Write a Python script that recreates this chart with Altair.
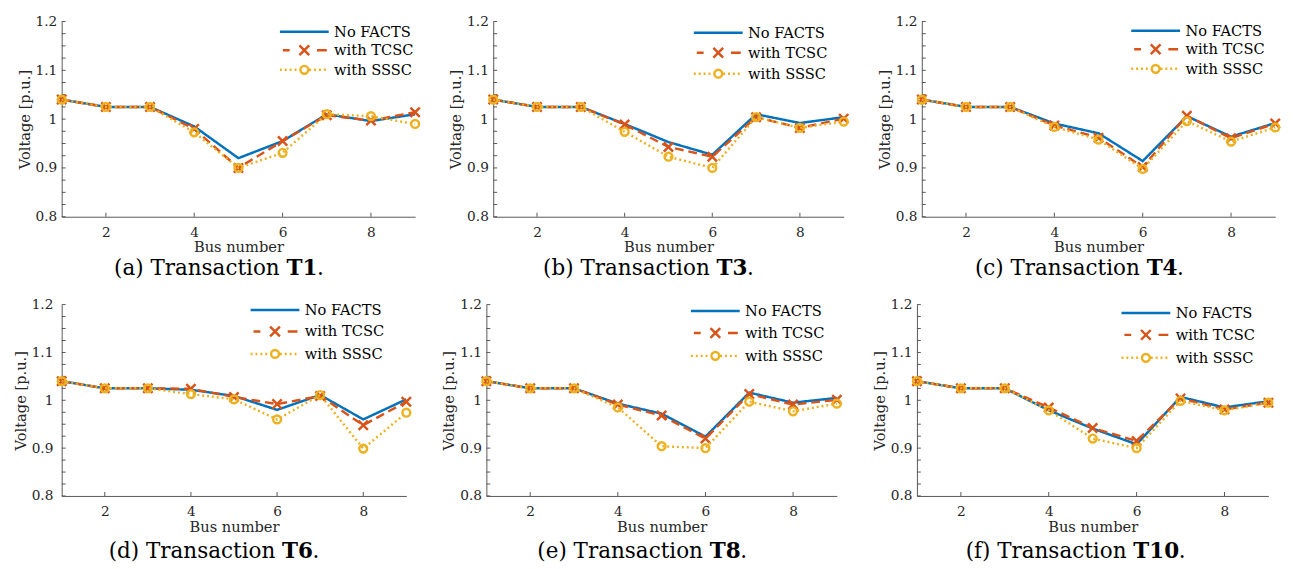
import altair as alt
import pandas as pd

# ---------------- data ----------------
BUS = [1, 2, 3, 4, 5, 6, 7, 8, 9]
SERIES = ["No FACTS", "with TCSC", "with SSSC"]
LETTERS = ["a", "b", "c", "d", "e", "f"]
TRANSACTIONS = ["T1", "T3", "T4", "T6", "T8", "T10"]

T1_NO = [1.040, 1.025, 1.025, 0.985, 0.920, 0.955, 1.010, 0.996, 1.010]
T1_TCSC = [1.040, 1.025, 1.025, 0.980, 0.900, 0.955, 1.008, 0.997, 1.014]
T1_SSSC = [1.040, 1.025, 1.025, 0.973, 0.900, 0.931, 1.010, 1.006, 0.990]

T3_NO = [1.040, 1.025, 1.025, 0.990, 0.953, 0.927, 1.010, 0.992, 1.004]
T3_TCSC = [1.040, 1.025, 1.025, 0.989, 0.943, 0.923, 1.004, 0.982, 1.001]
T3_SSSC = [1.040, 1.025, 1.025, 0.974, 0.923, 0.900, 1.004, 0.982, 0.995]

T4_NO = [1.040, 1.025, 1.025, 0.991, 0.971, 0.914, 1.006, 0.964, 0.992]
T4_TCSC = [1.040, 1.025, 1.025, 0.987, 0.962, 0.902, 1.007, 0.961, 0.991]
T4_SSSC = [1.040, 1.025, 1.025, 0.984, 0.958, 0.898, 0.996, 0.954, 0.983]

T6_NO = [1.040, 1.025, 1.025, 1.022, 1.009, 0.980, 1.011, 0.960, 1.002]
T6_TCSC = [1.040, 1.025, 1.025, 1.024, 1.007, 0.992, 1.009, 0.948, 0.997]
T6_SSSC = [1.040, 1.025, 1.025, 1.013, 1.002, 0.960, 1.011, 0.899, 0.974]

T8_NO = [1.040, 1.025, 1.025, 0.993, 0.972, 0.924, 1.016, 0.995, 1.005]
T8_TCSC = [1.040, 1.025, 1.025, 0.991, 0.968, 0.920, 1.013, 0.991, 1.001]
T8_SSSC = [1.040, 1.025, 1.025, 0.985, 0.904, 0.900, 0.997, 0.977, 0.993]

T10_NO = [1.040, 1.025, 1.025, 0.979, 0.941, 0.908, 1.007, 0.985, 0.998]
T10_TCSC = [1.040, 1.025, 1.025, 0.985, 0.942, 0.915, 1.004, 0.981, 0.995]
T10_SSSC = [1.040, 1.025, 1.025, 0.979, 0.920, 0.900, 0.999, 0.979, 0.995]

Y_TICK_LABELS = [0.8, 0.9, 1.0, 1.1, 1.2]
Y_TICK_MARKS = [0.8, 0.825, 0.85, 0.875, 0.9, 0.925, 0.95, 0.975, 1.0,
                1.025, 1.05, 1.075, 1.1, 1.125, 1.15, 1.175, 1.2]
X_TICK_LABELS = [2, 4, 6, 8]

PANEL_DATA = [
    (T1_NO, T1_TCSC, T1_SSSC),
    (T3_NO, T3_TCSC, T3_SSSC),
    (T4_NO, T4_TCSC, T4_SSSC),
    (T6_NO, T6_TCSC, T6_SSSC),
    (T8_NO, T8_TCSC, T8_SSSC),
    (T10_NO, T10_TCSC, T10_SSSC),
]

# ---------------- style ----------------
COLORS = ["#0072BD", "#D95319", "#EDB120"]
DASHES = [[1, 0], [9, 5], [2, 3]]
FONT = "DejaVu Serif"
AXIS_COLOR = "#262626"
DOMAIN_COLOR = "#555555"

WIDTHS = [362, 359, 362, 353, 359, 360]
HEIGHTS = [200, 200, 200, 196, 196, 196]
LEG_X = [261, 243, 252, 231, 247, 247]
LEG_Y = [3, 4, 2, -2, -1, 1]
LEG_ROWPAD = [0, 1.5, 0, 3, 3.5, 3.5]
Y_LABEL_PAD = [5, 5, 5, 9, 5, 5]
CAPTION_GAP = [53, 53, 53, 57, 57, 57]

X_MARKER = "M-1,-1L1,1M-1,1L1,-1"


def dotted(a, b, on=0.4, off=0.6):
    parts = []
    p = a
    while p < b - 1e-9:
        q = min(p + on, b)
        parts.append(f"M{p:.2f},0L{q:.2f},0")
        p = q + off
    return "".join(parts)


CIRCLE = "M-4.8,0A0.8,0.8 0 1,0 -3.2,0A0.8,0.8 0 1,0 -4.8,0"
LEGEND_PATHS = [
    "M-9,0L1,0",
    "M-8.4,0L-7,0M-1.4,0L0.6,0M-5,-1L-3,1M-5,1L-3,-1",
    dotted(-9, -5.0) + dotted(-3.0, 1) + CIRCLE,
]


def make_panel(i):
    no, tcsc, sssc = PANEL_DATA[i]
    w, h = WIDTHS[i], HEIGHTS[i]
    df = pd.DataFrame({
        "bus": BUS * 3,
        "v": no + tcsc + sssc,
        "series": [SERIES[0]] * 9 + [SERIES[1]] * 9 + [SERIES[2]] * 9,
    })
    xs = alt.Scale(domain=[1, 9], nice=False, zero=False)
    ys = alt.Scale(domain=[0.8, 1.2], nice=False, zero=False)
    x_axis = alt.Axis(values=X_TICK_LABELS, title="Bus number", ticks=False,
                      grid=False, labelPadding=9, titlePadding=1)
    y_axis = alt.Axis(values=Y_TICK_LABELS, format="~g", title="Voltage [p.u.]",
                      ticks=False, grid=False, labelPadding=Y_LABEL_PAD[i], titlePadding=3)
    X = alt.X("bus:Q", scale=xs, axis=x_axis)
    Y = alt.Y("v:Q", scale=ys, axis=y_axis)

    base = alt.Chart(df)

    ytick = alt.Chart(pd.DataFrame({"v": Y_TICK_MARKS})).mark_tick(
        orient="horizontal", size=4, thickness=1, color=DOMAIN_COLOR, xOffset=2, opacity=1
    ).encode(x=alt.X(datum=1, type="quantitative", scale=xs, axis=x_axis), y=Y)
    xtick = alt.Chart(pd.DataFrame({"bus": X_TICK_LABELS})).mark_tick(
        orient="vertical", size=4, thickness=1, color=DOMAIN_COLOR, yOffset=-2, opacity=1
    ).encode(x=X, y=alt.Y(datum=0.8, type="quantitative", scale=ys, axis=y_axis))

    def line(k):
        return base.transform_filter(alt.datum.series == SERIES[k]).mark_line(
            strokeWidth=2.5, strokeCap="butt", color=COLORS[k], strokeDash=DASHES[k]
        ).encode(x=X, y=Y)

    def pts(k, shape, size):
        return base.transform_filter(alt.datum.series == SERIES[k]).mark_point(
            shape=shape, filled=False, size=size, strokeWidth=2.5, opacity=1, color=COLORS[k]
        ).encode(x=X, y=Y)

    leg = alt.Legend(title=None, orient="none", legendX=LEG_X[i], legendY=LEG_Y[i],
                     padding=0, symbolSize=100, symbolStrokeWidth=2.5,
                     labelFont=FONT, labelFontSize=15, labelColor="#000000",
                     labelFontWeight="normal",
                     labelOffset=3, rowPadding=LEG_ROWPAD[i], labelLimit=300)
    legend_layer = base.transform_filter("false").mark_point(
        filled=False, opacity=1, strokeWidth=2.5
    ).encode(
        x=X, y=Y,
        color=alt.Color("series:N", scale=alt.Scale(domain=SERIES, range=COLORS), legend=leg),
        shape=alt.Shape("series:N", scale=alt.Scale(domain=SERIES, range=LEGEND_PATHS), legend=leg),
    )

    # caption: "(x) Transaction " + bold "Tn" + "."
    fs = 22
    bold_w = (0.723 + 0.696 * (len(TRANSACTIONS[i]) - 1)) * fs
    space = 0.318 * fs
    reg_w = 7.716 * fs
    total = reg_w + space + bold_w + space
    center = w / 2 - 20
    start = center - total / 2
    X0 = start + reg_w
    cy = h + CAPTION_GAP[i]
    one = alt.Data(values=[{"k": 0}])
    cap1 = alt.Chart(one).mark_text(
        text=f"({LETTERS[i]}) Transaction", align="right", baseline="middle",
        font=FONT, fontSize=fs, color="#000000"
    ).encode(x=alt.value(X0), y=alt.value(cy))
    cap2 = alt.Chart(one).mark_text(
        text=TRANSACTIONS[i], align="left", baseline="middle",
        font=FONT, fontSize=fs, fontWeight="bold", color="#000000"
    ).encode(x=alt.value(X0 + space), y=alt.value(cy))
    cap3 = alt.Chart(one).mark_text(
        text=".", align="left", baseline="middle",
        font=FONT, fontSize=fs, color="#000000"
    ).encode(x=alt.value(X0 + space + bold_w), y=alt.value(cy))

    return alt.layer(
        ytick, xtick,
        line(0),
        line(1), pts(1, X_MARKER, 90),
        line(2), pts(2, "circle", 64),
        legend_layer, cap1, cap2, cap3,
    ).properties(width=w, height=h)


panels = [make_panel(i) for i in range(6)]

row1 = alt.hconcat(*panels[:3], spacing=24).resolve_scale(color="independent", shape="independent")
row2 = alt.hconcat(*panels[3:], spacing=26).resolve_scale(color="independent", shape="independent")

chart = alt.vconcat(row1, row2, spacing=19).resolve_scale(
    color="independent", shape="independent"
).properties(
    padding={"left": 5, "top": 0, "right": 0, "bottom": 0}
).configure(background="white").configure_view(stroke=None).configure_axis(
    labelFont=FONT, titleFont=FONT, labelFontSize=14, titleFontSize=15,
    labelColor=AXIS_COLOR, titleColor=AXIS_COLOR, titleFontWeight="normal",
    domainColor=DOMAIN_COLOR, domainWidth=1
).configure_legend(
    labelFont=FONT, labelFontSize=15, labelColor="#000000"
)

chart.save("out.html", embed_options={"renderer": "svg", "actions": False})
